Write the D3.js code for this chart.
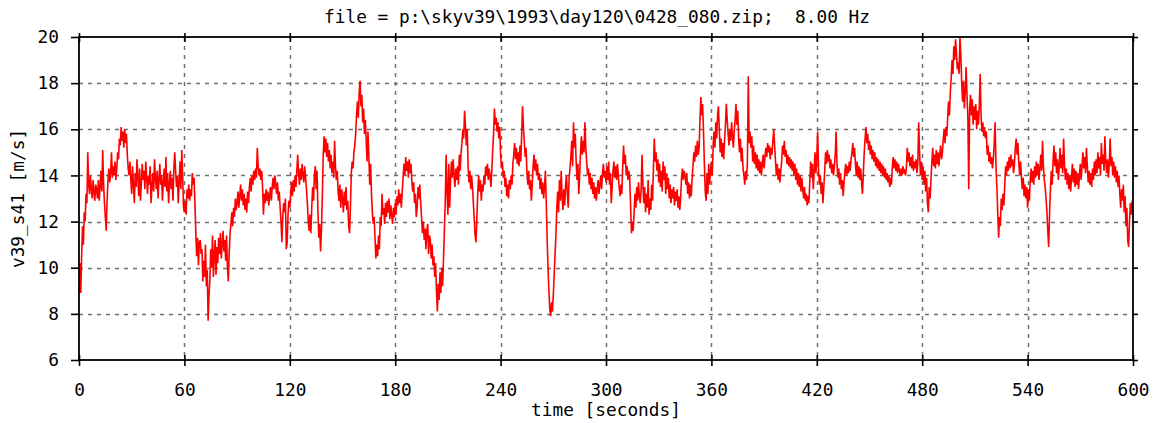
<!DOCTYPE html>
<html>
<head>
<meta charset="utf-8">
<script src="https://cdn.jsdelivr.net/npm/d3@7"></script>
<style>
  html, body { margin: 0; padding: 0; background: #fff; }
  svg text { font-family: "DejaVu Sans Mono", "Liberation Mono", monospace; fill: #000; white-space: pre; }
</style>
</head>
<body>
<svg id="chart" width="1165" height="423"></svg>
<script>
// ---- data (speed in m/s, sampled every 0.5 s from 0 to 600 s) ----
const titleText = "file = p:\\skyv39\\1993\\day120\\0428_080.zip;  8.00 Hz";
const xLabel = "time [seconds]";
const yLabel = "v39_s41 [m/s]";
const xTicks = [0, 60, 120, 180, 240, 300, 360, 420, 480, 540, 600];
const yTicks = [6, 8, 10, 12, 14, 16, 18, 20];
const sampleStep = 0.5;
const speed = [
 9.0,10.2,8.9,10.5,11.8,11.0,12.4,12.0,13.2,12.8,15.0,13.6,13.2,14.0,13.4,13.0,13.8,13.3,12.9,13.6,
 13.4,13.0,13.8,12.9,13.5,14.2,13.3,15.1,13.6,12.8,12.2,11.6,12.9,13.8,14.3,13.7,14.1,15.0,13.9,14.4,
 14.0,14.6,13.8,14.3,15.0,14.7,15.6,15.3,16.1,15.5,15.9,15.2,16.0,15.4,15.8,14.9,14.3,14.0,14.6,13.8,
 13.2,14.4,13.6,12.8,14.1,13.5,14.7,13.9,13.1,14.3,12.9,13.7,14.5,13.8,14.2,13.4,14.6,13.9,13.2,14.0,
 13.6,14.4,12.8,13.5,14.1,13.3,14.7,13.9,13.4,14.2,13.0,13.8,14.5,13.6,14.0,12.9,13.7,14.3,13.5,14.8,
 13.3,14.1,12.8,13.6,14.2,13.4,13.9,12.9,14.3,15.0,14.2,13.5,14.0,12.8,13.7,14.6,13.4,15.1,14.0,12.6,
 12.4,12.9,12.3,13.4,13.0,13.6,12.9,13.4,13.1,14.1,13.6,13.9,12.8,11.5,10.5,11.3,10.1,11.1,11.2,10.6,
 10.8,9.4,10.3,9.6,11.0,9.2,9.9,7.7,8.8,9.5,10.8,10.0,11.4,9.6,10.5,11.2,9.7,10.9,10.2,11.3,
 10.6,11.5,10.4,11.0,11.6,10.7,11.2,10.3,11.4,10.0,9.4,10.6,11.5,11.9,12.4,11.8,12.6,12.2,13.0,12.5,
 12.8,13.3,12.6,13.1,13.6,12.9,13.4,12.7,13.2,12.5,13.0,12.4,13.3,12.8,13.5,13.9,13.3,14.0,13.6,14.2,
 13.8,14.3,13.9,15.2,14.4,14.0,14.3,13.8,14.2,13.5,12.3,13.2,12.8,13.4,12.9,13.3,12.7,13.1,13.5,12.9,
 13.5,13.9,13.4,14.0,13.6,13.2,13.7,12.9,13.3,12.6,12.0,11.1,12.2,12.8,12.4,13.0,10.8,11.1,12.3,12.9,
 12.6,13.2,13.7,13.1,13.8,13.3,14.0,13.5,14.2,14.9,14.1,13.6,14.3,13.8,14.5,14.0,13.7,14.4,13.9,13.4,
 12.8,12.0,11.6,12.3,11.5,12.6,13.5,12.9,14.0,14.4,13.4,14.2,12.5,11.3,11.9,10.7,11.6,13.0,14.8,15.7,
 15.0,15.6,14.8,15.4,14.6,15.1,14.3,14.9,14.1,14.6,13.9,15.5,14.4,13.8,14.2,13.3,12.9,13.6,12.6,13.4,
 13.0,12.4,13.3,12.7,13.5,12.5,12.9,11.8,11.5,12.6,14.1,14.6,14.3,15.0,15.3,15.8,16.6,17.2,16.5,17.6,
 18.1,17.0,17.5,16.3,16.9,15.8,16.4,15.5,14.6,15.9,14.8,13.6,14.5,13.2,12.4,11.9,12.2,11.3,10.4,11.0,
 10.5,11.4,10.8,12.2,11.8,13.2,12.3,12.6,11.9,12.8,12.2,12.9,12.4,13.0,12.1,12.7,12.3,11.9,12.6,12.2,
 12.8,12.3,13.1,12.7,13.4,12.8,13.2,12.6,13.3,13.9,14.5,14.0,14.8,14.2,14.6,13.9,14.7,14.1,14.5,13.7,
 13.3,13.7,12.8,13.2,12.2,12.6,13.5,13.0,13.6,12.8,12.2,11.5,12.0,11.2,11.7,10.8,11.6,11.9,10.6,11.4,
 11.2,10.4,11.0,10.1,10.5,9.6,10.2,9.0,8.1,9.3,8.6,9.8,8.9,10.0,9.2,10.4,11.6,12.9,14.9,13.3,
 12.3,14.5,12.6,13.8,14.6,13.9,14.7,14.0,13.5,14.3,13.8,14.4,13.6,14.9,14.2,15.0,15.4,16.0,15.6,16.8,
 16.1,15.3,16.0,14.4,13.7,14.2,13.4,14.0,13.5,12.8,12.1,11.4,11.1,12.2,13.2,14.0,13.3,13.8,12.9,13.6,
 13.3,14.0,13.6,14.4,14.0,14.5,13.8,14.3,14.0,13.5,14.2,15.1,15.8,16.9,16.2,16.5,15.9,16.3,15.6,16.1,
 14.9,14.3,14.6,13.9,14.2,13.5,13.9,13.1,13.6,13.0,13.8,13.4,14.0,13.6,14.5,14.9,15.4,14.7,15.2,14.5,
 15.0,14.4,15.3,14.6,15.8,17.0,16.1,15.4,14.8,15.2,14.1,13.6,14.2,13.4,13.8,12.9,13.6,14.4,14.9,14.2,
 14.7,14.0,14.5,13.8,14.1,13.4,13.9,13.2,13.7,13.0,13.5,14.2,12.8,11.2,10.0,9.0,8.2,7.9,8.5,8.1,
 8.8,9.7,10.6,11.4,12.6,13.3,12.4,13.8,12.9,14.2,13.1,12.5,13.4,12.7,13.6,14.0,13.2,12.6,13.9,14.3,
 14.8,15.5,14.4,16.3,15.2,15.8,14.6,13.8,14.5,13.2,14.0,15.0,15.7,14.9,15.5,15.0,16.3,15.2,14.6,14.0,
 14.3,13.6,14.1,13.4,13.9,13.2,13.7,13.0,13.5,12.9,13.4,13.8,13.2,13.6,14.0,13.4,14.1,14.5,13.9,14.2,
 13.7,14.4,13.8,14.6,13.6,14.1,12.8,13.5,14.2,14.6,13.9,14.4,13.8,14.5,14.0,13.5,13.1,13.6,13.2,14.4,
 15.3,14.5,14.9,14.0,14.4,13.8,14.2,13.9,12.7,11.5,12.0,11.6,12.4,13.2,12.6,13.5,12.9,13.7,13.1,12.8,
 13.4,14.9,13.6,12.8,13.5,12.4,13.2,12.6,13.8,12.3,13.0,12.5,13.6,12.9,14.3,15.6,14.6,15.0,14.2,14.7,
 13.7,14.5,13.5,14.2,13.3,14.6,13.8,14.4,13.2,14.1,13.4,13.9,13.0,13.6,12.8,13.4,13.0,13.5,12.7,13.3,
 12.9,13.4,12.6,13.1,12.5,13.0,13.9,14.3,13.8,14.2,14.0,13.6,14.1,13.2,13.7,13.0,13.6,13.1,13.8,14.4,
 15.0,14.6,15.3,14.8,15.5,14.9,15.2,16.4,17.4,16.6,17.1,15.9,14.5,13.3,12.9,14.1,13.2,14.5,13.6,14.2,
 14.6,14.0,15.3,15.9,15.2,16.3,15.6,16.6,17.0,16.0,15.0,15.6,14.8,15.4,14.7,15.5,16.2,17.1,16.4,15.8,
 15.3,16.0,15.5,16.3,15.7,15.2,15.9,16.4,17.1,16.2,16.8,15.6,15.0,15.6,14.6,15.2,14.3,14.0,13.6,14.2,
 13.8,14.6,18.3,15.4,15.9,15.2,15.7,14.6,15.3,14.5,15.0,14.3,14.9,14.2,14.7,14.1,14.6,14.0,14.5,14.9,
 14.3,14.8,15.2,14.8,15.4,15.0,15.3,14.7,15.2,14.9,15.5,16.0,15.3,14.6,14.0,14.5,13.8,14.3,13.7,14.2,
 14.6,15.3,14.9,15.5,14.8,15.1,14.5,14.9,14.4,14.8,14.3,14.7,14.2,14.6,14.0,14.5,13.8,14.3,13.6,14.1,
 13.5,14.0,13.3,13.9,13.4,13.0,13.5,12.9,13.2,12.7,13.1,12.8,13.7,14.6,13.9,14.5,13.4,14.2,15.0,14.1,
 14.8,15.9,14.2,13.6,14.0,13.2,13.7,12.8,13.5,14.2,15.0,14.5,15.1,14.6,14.9,14.3,14.7,14.1,14.5,14.0,
 14.4,14.9,15.9,14.5,13.9,14.3,13.6,14.1,13.4,13.8,13.1,13.7,14.2,14.5,14.0,14.4,14.1,14.6,14.2,14.7,
 15.0,15.4,14.8,15.2,14.5,14.0,14.6,13.9,14.4,13.8,14.3,13.7,13.2,14.1,15.0,15.6,16.1,15.4,15.8,15.1,
 15.5,14.9,15.3,14.7,15.1,14.6,15.0,14.4,14.8,14.3,14.7,14.2,14.6,14.1,14.5,14.0,14.4,13.9,14.3,13.8,
 14.1,13.7,14.0,13.5,13.9,13.6,14.4,14.8,14.3,14.7,14.2,14.6,14.1,14.5,14.2,14.0,14.3,14.0,14.4,14.1,
 14.2,14.0,14.3,15.2,14.6,15.0,14.4,14.8,14.3,14.9,14.2,14.6,14.3,14.7,14.1,14.5,16.3,15.0,14.0,14.6,
 13.8,14.4,13.6,14.2,13.3,13.9,12.8,12.4,13.5,13.0,13.8,14.6,15.2,14.4,14.9,14.3,15.1,14.5,15.0,14.4,
 14.9,15.3,14.7,15.0,15.6,16.0,15.4,16.1,15.7,16.5,17.2,16.6,17.6,18.2,19.0,18.4,19.6,19.0,19.9,19.3,
 18.6,18.9,18.4,20.0,19.2,18.0,17.2,18.1,16.9,17.6,18.7,17.5,16.5,13.4,16.8,17.5,16.6,17.3,16.2,17.0,
 16.4,17.1,16.0,16.8,16.2,17.0,18.4,16.6,15.9,16.3,15.7,16.1,15.6,15.9,14.9,15.3,14.6,15.0,14.5,14.8,
 14.3,14.7,15.4,16.3,14.4,13.5,12.4,11.3,12.2,11.8,13.0,12.5,13.2,12.7,13.6,14.4,14.0,14.6,14.2,14.8,
 14.3,14.9,14.4,14.7,14.1,14.5,15.2,15.6,14.9,15.4,14.5,14.0,14.6,13.9,13.4,13.9,13.1,13.6,13.0,13.5,
 12.6,13.4,12.9,13.8,14.3,13.7,14.2,13.6,14.4,13.9,14.6,14.0,14.5,13.8,14.3,14.9,14.2,15.5,14.4,13.8,
 13.5,13.0,12.4,11.6,10.9,12.3,13.4,14.2,13.6,14.6,15.3,14.4,15.0,14.1,14.7,13.8,14.4,15.2,14.3,14.9,
 14.1,15.6,14.5,13.8,14.3,13.6,14.1,13.4,14.0,13.3,13.9,14.5,13.7,14.3,13.5,14.2,13.6,14.1,13.4,14.0,
 14.5,13.8,14.4,15.0,14.3,14.8,14.1,15.2,14.4,13.7,14.2,13.6,14.1,13.5,14.3,13.8,14.6,14.0,14.7,14.1,
 15.0,14.3,14.8,14.0,15.4,14.5,14.9,14.2,15.7,14.6,14.1,14.7,13.9,14.5,15.6,14.4,14.8,14.0,14.6,13.9,
 14.4,13.7,14.2,13.5,14.0,13.2,12.6,13.4,12.9,13.6,12.4,13.1,11.8,12.6,11.2,10.9,12.0,12.8,12.3,12.9,
 12.4
];

// ---- drawing ----
(function draw() {
  const svg = d3.select("#chart");
  const W = 1165, H = 423;
  const pLeft = 79, pRight = 1133, pTop = 37, pBottom = 360;
  const fontSize = "17.8px";

  svg.append("rect").attr("width", W).attr("height", H).attr("fill", "#fff");

  const x = d3.scaleLinear().domain([0, 600]).range([pLeft, pRight]);
  const y = d3.scaleLinear().domain([6, 20]).range([pBottom, pTop]);

  // grid
  const grid = svg.append("g").attr("stroke", "#707070").attr("stroke-width", 1.5).attr("stroke-dasharray", "4,5");
  grid.selectAll("line.v").data(xTicks.slice(1, -1)).join("line")
    .attr("x1", d => Math.round(x(d)) + 0.5).attr("x2", d => Math.round(x(d)) + 0.5)
    .attr("y1", pTop).attr("y2", pBottom);
  grid.selectAll("line.h").data(yTicks.slice(1, -1)).join("line")
    .attr("y1", d => Math.round(y(d)) + 0.5).attr("y2", d => Math.round(y(d)) + 0.5)
    .attr("x1", pLeft).attr("x2", pRight);

  // data line
  svg.append("clipPath").attr("id", "clip").append("rect")
    .attr("x", pLeft).attr("y", pTop - 1).attr("width", pRight - pLeft).attr("height", pBottom - pTop + 2);
  const line = d3.line().x((d, i) => x(i * sampleStep)).y(d => y(d));
  svg.append("path").datum(speed)
    .attr("clip-path", "url(#clip)")
    .attr("fill", "none").attr("stroke", "#ff0000").attr("stroke-width", 1.6)
    .attr("d", line);

  // frame
  svg.append("rect").attr("x", pLeft).attr("y", pTop).attr("width", pRight - pLeft).attr("height", pBottom - pTop)
    .attr("fill", "none").attr("stroke", "#000").attr("stroke-width", 1.8);

  function styleAxis(g, labels) {
    g.select(".domain").remove();
    g.selectAll(".tick line").attr("stroke", "#000").attr("stroke-width", 1.6);
    if (!labels) g.selectAll(".tick text").remove();
    else g.selectAll(".tick text").attr("font-size", fontSize).attr("fill", "#000")
          .style("font-family", '"DejaVu Sans Mono", monospace');
  }

  svg.append("g").attr("transform", `translate(0,${pBottom})`)
    .call(d3.axisBottom(x).tickValues(xTicks).tickSizeInner(6).tickSizeOuter(0).tickPadding(17).tickFormat(d3.format("d")))
    .call(g => styleAxis(g, true));
  svg.append("g").attr("transform", `translate(0,${pBottom})`)
    .call(d3.axisTop(x).tickValues(xTicks).tickSize(5))
    .call(g => styleAxis(g, false));
  svg.append("g").attr("transform", `translate(0,${pTop})`)
    .call(d3.axisTop(x).tickValues(xTicks).tickSize(4))
    .call(g => styleAxis(g, false));
  svg.append("g").attr("transform", `translate(0,${pTop})`)
    .call(d3.axisBottom(x).tickValues(xTicks).tickSize(5))
    .call(g => styleAxis(g, false));
  svg.append("g").attr("transform", `translate(${pLeft},0)`)
    .call(d3.axisLeft(y).tickValues(yTicks).tickSizeInner(8).tickSizeOuter(0).tickPadding(12).tickFormat(d3.format("d")))
    .call(g => styleAxis(g, true));
  svg.append("g").attr("transform", `translate(${pRight},0)`)
    .call(d3.axisRight(y).tickValues(yTicks).tickSize(5))
    .call(g => styleAxis(g, false));

  svg.append("text").attr("x", 597).attr("y", 23).attr("text-anchor", "middle")
    .attr("xml:space", "preserve")
    .attr("font-size", fontSize).text(titleText);
  svg.append("text").attr("x", (pLeft + pRight) / 2).attr("y", 416).attr("text-anchor", "middle")
    .attr("font-size", fontSize).text(xLabel);
  svg.append("text").attr("transform", `translate(23.5,${(pTop + pBottom) / 2}) rotate(-90)`)
    .attr("text-anchor", "middle").attr("font-size", fontSize).text(yLabel);
})();
</script>
</body>
</html>
